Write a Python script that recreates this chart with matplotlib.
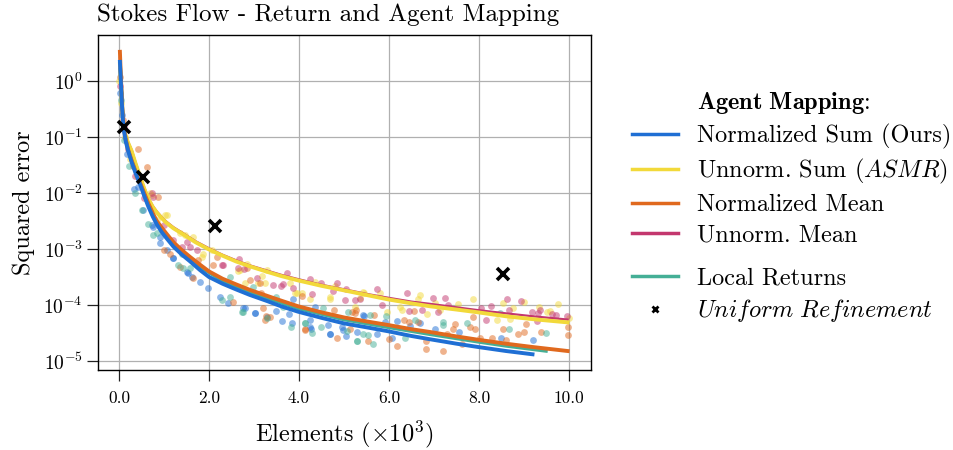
import numpy as np
import matplotlib
matplotlib.use("Agg")
import matplotlib.pyplot as plt
from matplotlib.lines import Line2D
from matplotlib.ticker import FixedLocator, NullLocator, LogLocator

plt.rcParams["font.family"] = "cmr10"
plt.rcParams["mathtext.fontset"] = "cm"
plt.rcParams["axes.formatter.use_mathtext"] = True

# ---- fitted curves (elements in thousands, squared error) ----
norm_sum_x = [0.02, 0.04, 0.07, 0.1, 0.15, 0.2, 0.28, 0.37, 0.47, 0.56, 0.65, 0.75, 0.84, 0.95, 1.05, 1.21, 1.4, 1.58,
              1.8, 2.0, 2.3, 2.6, 2.91, 3.3, 3.6, 3.98, 4.5, 5.0, 5.5, 5.98, 6.5, 6.91, 7.5, 7.98, 8.6, 9.19]
norm_sum_y = [2.19, 1.0, 0.316, 0.141, 0.0832, 0.0575, 0.0355, 0.0224, 0.0141, 0.0089, 0.00575, 0.0038, 0.00275, 0.002,
              0.00158, 0.0011, 7.9e-4, 6.0e-4, 4.2e-4, 3.16e-4, 2.4e-4, 1.9e-4, 1.51e-4, 1.17e-4, 9.5e-5, 7.6e-5, 5.9e-5,
              4.7e-5, 4.0e-5, 3.4e-5, 2.8e-5, 2.45e-5, 2.04e-5, 1.78e-5, 1.51e-5, 1.32e-5]

norm_mean_x = [0.02, 0.04, 0.07, 0.1, 0.15, 0.2, 0.28, 0.37, 0.47, 0.56, 0.65, 0.75, 0.84, 0.95, 1.05, 1.21, 1.4, 1.58,
               1.8, 2.0, 2.3, 2.6, 2.91, 3.3, 3.6, 3.98, 4.5, 5.0, 5.5, 5.98, 6.5, 6.91, 7.5, 7.98, 8.6, 9.19, 9.97]
norm_mean_y = [3.31, 1.26, 0.355, 0.158, 0.0891, 0.0603, 0.038, 0.024, 0.0151, 0.01, 0.0066, 0.00437, 0.00316, 0.0024,
               0.0019, 0.00132, 9.5e-4, 7.2e-4, 5.25e-4, 3.98e-4, 2.95e-4, 2.34e-4, 1.86e-4, 1.45e-4, 1.2e-4, 9.5e-5,
               7.4e-5, 6.0e-5, 5.1e-5, 4.4e-5, 3.7e-5, 3.3e-5, 2.75e-5, 2.4e-5, 2.04e-5, 1.78e-5, 1.51e-5]

local_x = [0.03, 0.1, 0.2, 0.37, 0.47, 0.65, 0.84, 1.05, 1.4, 1.8, 2.3, 2.91, 3.6, 3.98, 5.0, 5.98, 6.91, 7.98, 8.6, 9.49]
local_y = [1.58, 0.151, 0.0589, 0.0234, 0.0148, 0.0063, 0.00295, 0.00178, 8.9e-4, 4.8e-4, 2.7e-4, 1.7e-4, 1.1e-4,
           8.7e-5, 5.5e-5, 4.0e-5, 3.0e-5, 2.2e-5, 1.86e-5, 1.51e-5]

unnorm_sum_x = [0.02, 0.04, 0.07, 0.1, 0.15, 0.2, 0.28, 0.37, 0.47, 0.56, 0.65, 0.75, 0.84, 0.95, 1.05, 1.21, 1.43, 1.7,
                1.98, 2.3, 2.6, 2.91, 3.3, 3.6, 3.98, 4.5, 5.13, 5.5, 5.98, 6.5, 6.91, 7.5, 7.98, 8.6, 9.19, 9.97]
unnorm_sum_y = [2.0, 0.89, 0.316, 0.158, 0.105, 0.0794, 0.0562, 0.0331, 0.0195, 0.012, 0.00794, 0.00562, 0.00447,
                0.00355, 0.00295, 0.00234, 0.00182, 0.00132, 0.001, 7.6e-4, 6.0e-4, 4.9e-4, 3.9e-4, 3.3e-4, 2.75e-4,
                2.2e-4, 1.74e-4, 1.51e-4, 1.26e-4, 1.07e-4, 9.5e-5, 8.3e-5, 7.4e-5, 6.3e-5, 5.6e-5, 4.9e-5]

unnorm_mean_x = [0.02, 0.04, 0.07, 0.1, 0.15, 0.2, 0.28, 0.37, 0.47, 0.56, 0.65, 0.75, 0.84, 0.95, 1.05, 1.21, 1.43, 1.7,
                 1.98, 2.3, 2.6, 2.91, 3.3, 3.6, 3.98, 4.5, 5.13, 5.5, 5.98, 6.5, 6.91, 7.5, 7.98, 8.6, 9.19, 9.97]
unnorm_mean_y = [2.6, 1.0, 0.33, 0.166, 0.11, 0.083, 0.059, 0.0347, 0.0204, 0.0126, 0.0083, 0.00589, 0.00468, 0.00372,
                 0.00309, 0.00245, 0.0019, 0.00138, 0.00105, 7.9e-4, 6.3e-4, 5.1e-4, 4.1e-4, 3.47e-4, 2.9e-4, 2.3e-4,
                 1.82e-4, 1.58e-4, 1.35e-4, 1.15e-4, 1.05e-4, 9.1e-5, 8.1e-5, 7.1e-5, 6.3e-5, 5.5e-5]

# ---- uniform refinement baseline ----
uniform_x = [0.11, 0.53, 2.13, 8.53]
uniform_y = [0.15, 0.019, 2.6e-3, 3.55e-4]

# ---- per-episode returns ----
norm_sum_pts_x = [0.03, 0.06, 0.18, 0.33, 0.43, 0.54, 0.73, 0.91, 1.06, 1.21, 1.54, 1.62, 1.8, 1.98, 2.24,
                  2.8, 3.02, 3.5, 3.62, 3.78, 3.87, 4.24, 4.26, 4.36, 4.65, 4.7, 4.95, 5.04, 5.28, 5.44,
                  5.73, 5.91, 6.07, 6.18, 6.47, 6.69, 7.02, 7.56, 8.48, 9.19,
                  0.76, 0.91, 1.21, 1.5, 2.43, 2.76, 3.02, 3.28, 3.84, 4.24, 4.69, 4.98, 5.43]
norm_sum_pts_y = [0.6, 0.25, 0.05, 0.012, 0.0129, 5.0e-3, 2.7e-3, 1.26e-3, 9.5e-4, 6.8e-4, 3.7e-4, 3.2e-4, 2.6e-4, 2.0e-4, 1.41e-4,
                  8.7e-5, 7.2e-5, 7.9e-5, 5.2e-5, 6.9e-5, 1.26e-4, 5.4e-5, 3.8e-5, 9.3e-5, 4.4e-5, 3.0e-5, 4.0e-5, 2.8e-5, 3.3e-5, 6.3e-5,
                  3.0e-5, 5.0e-5, 2.6e-5, 5.2e-5, 4.2e-5, 4.7e-5, 3.8e-5, 3.3e-5, 2.6e-5, 2.35e-5,
                  2.5e-3, 1.66e-3, 6.8e-4, 3.9e-4, 1.07e-4, 8.7e-5, 7.1e-5, 6.2e-5, 4.7e-5, 4.1e-5, 3.1e-5, 3.55e-5, 6.6e-5]

unnorm_sum_pts_x = [0.0, 0.05, 0.14, 0.25, 0.4, 0.6, 0.69, 0.84, 1.06, 1.36, 1.65, 1.84, 1.87, 2.06, 2.65,
                    2.8, 2.84, 3.1, 3.17, 3.28, 3.8, 3.91, 4.06, 4.24, 4.36, 4.69, 4.8, 5.36, 5.43, 5.44,
                    5.8, 5.95, 6.24, 6.3, 6.65, 6.69, 6.84, 7.02, 7.13, 7.54, 7.87, 8.39, 8.54, 8.7, 8.75,
                    9.0, 9.33, 9.52, 9.58, 9.76, 10.0,
                    0.73, 1.02, 1.47, 2.69, 3.24, 3.95, 4.69, 5.24]
unnorm_sum_pts_y = [1.0, 0.4, 0.1, 0.04, 0.02, 0.009, 0.01, 3.3e-3, 4.1e-3, 1.9e-3, 1.66e-3, 7.2e-4, 8.3e-4, 9.5e-4, 4.0e-4,
                    2.45e-4, 5.5e-4, 2.45e-4, 3.3e-4, 4.2e-4, 2.45e-4, 1.62e-4, 1.66e-4, 1.26e-4, 2.6e-4, 1.26e-4, 2.2e-4, 1.32e-4, 1.74e-4, 1.62e-4,
                    1.62e-4, 7.6e-5, 9.3e-5, 8.1e-5, 1.29e-4, 1.51e-4, 6.9e-5, 1.07e-4, 8.1e-5, 1.05e-4, 1.29e-4, 5.4e-5, 1.07e-4, 5.6e-5, 8.7e-5,
                    1.12e-4, 9.1e-5, 7.4e-5, 7.9e-5, 1.05e-4, 5.8e-5,
                    9.1e-3, 4.1e-3, 1.78e-3, 4.2e-4, 2.45e-4, 1.62e-4, 1.41e-4, 9.3e-5]

norm_mean_pts_x = [0.02, 0.08, 0.3, 0.43, 0.62, 0.87, 1.13, 1.36, 1.76, 2.17, 2.84, 2.91, 3.15, 3.19, 3.27,
                   3.36, 4.06, 4.13, 4.78, 4.85, 5.13, 5.24, 5.27, 5.54, 5.67, 6.01, 6.18, 6.34, 6.45, 6.56,
                   6.65, 6.82, 6.82, 7.19, 7.3, 7.43, 7.47, 7.62, 7.8, 7.87, 7.91, 8.02, 8.28, 8.53, 8.6,
                   8.86, 9.0, 9.04, 9.37, 9.97, 9.97,
                   0.99, 1.65, 2.1, 2.54, 3.13, 3.24, 4.13, 5.17]
norm_mean_pts_y = [1.2, 0.2, 0.03, 0.060, 0.0295, 8.5e-3, 8.3e-4, 4.8e-4, 6.3e-4, 7.2e-4, 4.5e-4, 2.8e-4, 1.62e-4, 8.7e-5, 6.3e-5,
                   6.2e-5, 1.45e-4, 3.7e-5, 8.3e-5, 2.6e-5, 3.7e-5, 7.1e-5, 8.3e-5, 2.24e-5, 6.5e-5, 2.45e-5, 1.86e-5, 5.4e-5, 5.0e-5, 7.9e-5,
                   5.0e-5, 2.3e-5, 1.62e-5, 1.51e-5, 3.0e-5, 3.8e-5, 4.6e-5, 2.0e-5, 4.0e-5, 6.0e-5, 3.7e-5, 2.6e-5, 2.6e-5, 3.7e-5, 2.35e-5,
                   3.1e-5, 3.3e-5, 4.6e-5, 3.3e-5, 4.0e-5, 2.9e-5,
                   9.5e-4, 3.0e-4, 5.1e-4, 1.15e-4, 2.45e-4, 5.4e-5, 3.55e-5, 7.6e-5]

unnorm_mean_pts_x = [0.03, 0.1, 0.2, 0.35, 0.55, 0.73, 0.99, 1.21, 1.5, 1.58, 1.73, 2.32, 2.65, 2.78, 3.42,
                     3.59, 3.65, 3.74, 3.86, 4.24, 4.28, 4.5, 4.76, 4.84, 5.02, 5.04, 5.24, 5.36, 5.74, 5.84,
                     6.41, 6.44, 6.73, 6.98, 7.1, 7.24, 7.32, 8.04, 8.15, 8.26, 8.62, 8.67, 8.93, 9.18, 9.28,
                     9.32, 9.36, 9.62, 9.71, 9.96,
                     0.76, 1.39, 2.28, 2.67, 3.06]
unnorm_mean_pts_y = [0.8, 0.15, 0.06, 0.02, 0.008, 0.01, 2.7e-3, 1.45e-3, 1.35e-3, 1.1e-3, 9.5e-4, 5.1e-4, 4.5e-4, 4.4e-4, 2.3e-4,
                     2.2e-4, 2.35e-4, 3.8e-4, 2.0e-4, 2.9e-4, 1.55e-4, 2.5e-4, 1.78e-4, 2.5e-4, 1.23e-4, 1.9e-4, 1.23e-4, 1.26e-4, 1.9e-4, 1.0e-4,
                     1.62e-4, 7.8e-5, 8.3e-5, 1.32e-4, 7.6e-5, 1.32e-4, 1.0e-4, 8.9e-5, 5.4e-5, 9.8e-5, 1.29e-4, 8.3e-5, 1.2e-4, 7.6e-5, 5.2e-5,
                     7.2e-5, 8.3e-5, 6.9e-5, 6.6e-5, 6.3e-5,
                     8.5e-3, 1.1e-3, 5.1e-4, 6.6e-4, 3.0e-4]

local_pts_x = [0.04, 0.12, 0.22, 0.35, 0.5, 0.65, 0.76, 1.32, 1.39, 1.58, 2.47, 2.47, 2.75, 2.97, 3.28,
               3.49, 3.82, 4.13, 4.3, 4.5, 5.07, 5.1, 5.3, 5.43, 5.54, 5.64, 5.93, 6.36, 6.58, 7.19,
               7.21, 7.73, 8.47, 8.67, 9.49,
               0.84, 1.43, 2.28, 2.73, 3.65, 4.13, 4.54, 5.28, 5.58]
local_pts_y = [0.45, 0.09, 0.03, 0.01, 0.005, 0.0028, 1.78e-3, 5.1e-4, 8.3e-4, 4.5e-4, 3.2e-4, 1.41e-4, 7.6e-5, 2.1e-4, 5.8e-5,
               1.41e-4, 4.0e-5, 4.8e-5, 3.2e-5, 4.0e-5, 3.5e-5, 7.6e-5, 2.24e-5, 3.1e-5, 2.9e-5, 2.0e-5, 6.3e-5, 2.6e-5, 5.4e-5, 5.0e-5,
               4.4e-5, 4.8e-5, 7.1e-5, 3.7e-5, 3.2e-5,
               1.9e-3, 4.5e-4, 1.23e-4, 7.6e-5, 9.3e-5, 4.7e-5, 8.7e-5, 2.24e-5, 6.6e-5]

x_ticks = [0.0, 2.0, 4.0, 6.0, 8.0, 10.0]
x_tick_labels = ["0.0", "2.0", "4.0", "6.0", "8.0", "10.0"]

c_blue = "#1f6fd4"
c_yellow = "#f2d93a"
c_orange = "#e0691e"
c_magenta = "#c3376e"
c_teal = "#45af96"

fig = plt.figure(figsize=(9.54, 4.5), dpi=100)
ax = fig.add_axes([98 / 954, 1 - 370 / 450, (591 - 98) / 954, (370 - 35) / 450])

dot = dict(s=24, alpha=0.5, linewidths=0, zorder=2)
ax.scatter(norm_sum_pts_x, norm_sum_pts_y, color=c_blue, **dot)
ax.scatter(unnorm_sum_pts_x, unnorm_sum_pts_y, color=c_yellow, **dot)
ax.scatter(norm_mean_pts_x, norm_mean_pts_y, color=c_orange, **dot)
ax.scatter(unnorm_mean_pts_x, unnorm_mean_pts_y, color=c_magenta, **dot)
ax.scatter(local_pts_x, local_pts_y, color=c_teal, **dot)

ax.plot(unnorm_mean_x, unnorm_mean_y, color=c_magenta, lw=1.6, zorder=3)
ax.plot(unnorm_sum_x, unnorm_sum_y, color=c_yellow, lw=2.8, zorder=4)
ax.plot(local_x, local_y, color=c_teal, lw=2.5, zorder=5)
ax.plot(norm_mean_x, norm_mean_y, color=c_orange, lw=2.8, zorder=6)
ax.plot(norm_sum_x, norm_sum_y, color=c_blue, lw=2.8, zorder=7)

ax.plot(uniform_x, uniform_y, linestyle="none", marker="x", color="black",
        markersize=9, markeredgewidth=2.6, zorder=8)

ax.set_yscale("log")
ax.set_xlim(-0.467, 10.49)
ax.set_ylim(10 ** -5.16, 10 ** 0.82)
ax.xaxis.set_major_locator(FixedLocator(x_ticks))
ax.set_xticklabels(x_tick_labels)
ax.yaxis.set_major_locator(LogLocator(base=10, numticks=10))
ax.yaxis.set_minor_locator(NullLocator())
ax.grid(True, which="major", color="#b0b0b0", lw=0.9, zorder=0)
ax.set_axisbelow(True)
ax.tick_params(axis="both", which="major", direction="out", length=8, width=0.9,
               color="#222222")
ax.tick_params(axis="x", pad=7, labelsize=12.5)
ax.tick_params(axis="y", pad=3, labelsize=14)
for sp in ax.spines.values():
    sp.set_linewidth(1.0)

ax.set_title("Stokes Flow - Return and Agent Mapping", fontsize=18, pad=10,
             x=(328.5 - 98) / 493)
ax.set_xlabel(r"Elements ($\times10^3$)", fontsize=17.5, labelpad=9)
ax.set_ylabel("Squared error", fontsize=17.5, labelpad=6)

# legend: method group with heading, then local returns and baseline
blank = Line2D([], [], linestyle="none")
h_top = [blank,
         Line2D([], [], color=c_blue, lw=2.5),
         Line2D([], [], color=c_yellow, lw=2.5),
         Line2D([], [], color=c_orange, lw=2.5),
         Line2D([], [], color=c_magenta, lw=2.5)]
l_top = [r"$\mathbf{Agent\ Mapping}$:",
         "Normalized Sum (Ours)",
         r"Unnorm. Sum ($\mathit{ASMR}$)",
         "Normalized Mean",
         "Unnorm. Mean"]
h_bot = [Line2D([], [], color=c_teal, lw=2.5),
         Line2D([], [], linestyle="none", marker="x", color="black", markersize=5, markeredgewidth=2)]
l_bot = ["Local Returns", r"$\mathit{Uniform\ Refinement}$"]

leg_kw = dict(loc="upper left", frameon=False, fontsize=17.5, handlelength=1.9,
              handletextpad=0.78, borderpad=0, borderaxespad=0, labelspacing=0.33)
leg1 = fig.legend(h_top, l_top, bbox_to_anchor=(632 / 954, 1 - 90 / 450), **leg_kw)
leg2 = fig.legend(h_bot, l_bot, bbox_to_anchor=(632 / 954, 1 - 267 / 450), **leg_kw)

fig.savefig("out.png", dpi=100)
